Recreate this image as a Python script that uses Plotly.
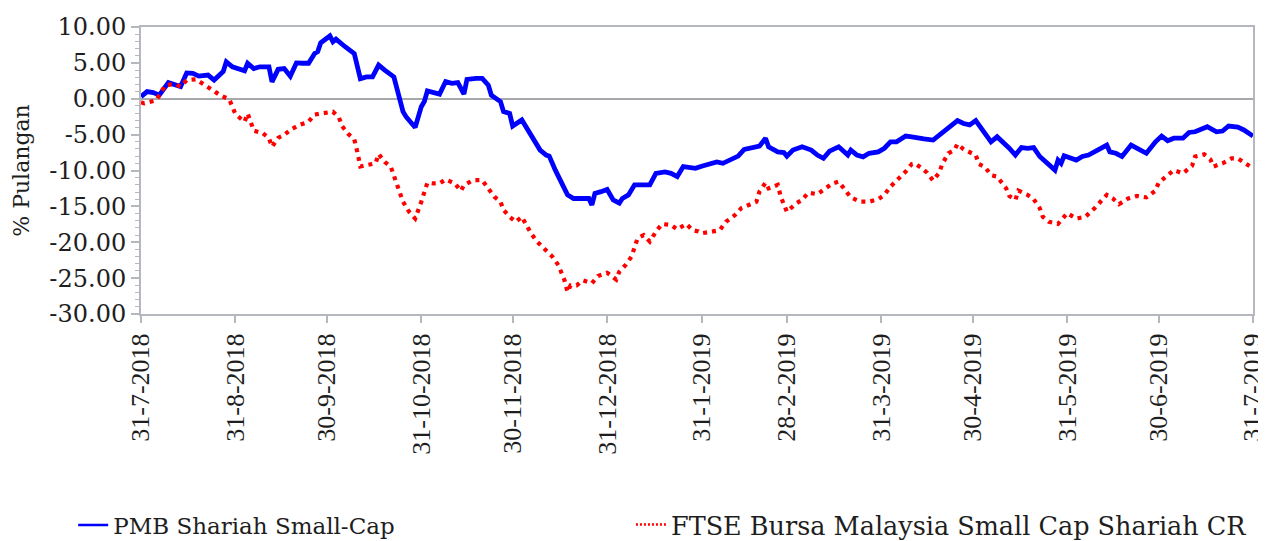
import pandas as pd
import plotly.graph_objects as go

start_date = "2018-07-31"

# PMB Shariah Small-Cap: day offset from 31-7-2018 and % return
pmb_days = [0, 2, 4, 6, 9, 11, 13, 15, 17, 19, 22, 24, 27, 28, 30, 34, 35, 37, 39, 42,
            43, 45, 47, 49, 51, 53, 55, 57, 58, 59, 62, 63, 64, 67, 70, 72, 74, 76, 78, 80,
            83, 86, 87, 90, 92, 93, 94, 98, 100, 102, 104, 106, 107, 110, 112, 114, 115, 118, 119, 121,
            122, 125, 127, 129, 131, 133, 134, 136, 138, 140, 142, 144, 147, 148, 149, 151, 153, 155, 157, 158,
            160, 162, 165, 167, 169, 172, 174, 176, 178, 181, 182, 184, 186, 189, 191, 194, 196, 198, 200, 203,
            205, 206, 209, 211, 212, 214, 217, 220, 222, 224, 226, 229, 232, 233, 235, 237, 239, 242, 244, 246,
            248, 251, 253, 255, 257, 260, 262, 264, 266, 268, 270, 272, 274, 275, 277, 279, 281, 283, 285, 287,
            289, 291, 293, 295, 297, 298, 300, 301, 302, 303, 305, 307, 309, 311, 314, 317, 318, 320, 322, 325,
            327, 330, 333, 335, 337, 339, 342, 344, 346, 350, 353, 355, 357, 360, 362, 365]
pmb_values = [0.3, 1.0, 0.85, 0.5, 2.25, 2.05, 1.7, 3.6, 3.55, 3.15, 3.3, 2.6, 3.8, 5.15, 4.45, 3.9, 4.95, 4.2, 4.45, 4.45,
              2.35, 4.1, 4.2, 3.15, 5.0, 4.95, 4.95, 6.3, 6.55, 7.8, 8.75, 7.95, 8.3, 7.25, 6.3, 2.8, 3.05, 3.05, 4.7, 4.0,
              3.05, -1.8, -2.5, -4.0, -1.1, -0.4, 1.1, 0.65, 2.4, 2.15, 2.25, 0.65, 2.7, 2.85, 2.85, 1.9, 0.5, -0.4, -1.8, -2.05,
              -3.8, -2.95, -4.35, -6.0, -7.15, -7.85, -8.0, -9.95, -11.8, -13.4, -13.9, -13.9, -13.9, -14.8, -13.2, -12.95, -12.65, -14.1, -14.55, -13.9,
              -13.4, -12.0, -11.9, -12.0, -10.4, -10.2, -10.4, -10.85, -9.45, -9.7, -9.7, -9.4, -9.1, -8.8, -9.0, -8.45, -8.0, -7.05, -6.8, -6.6,
              -5.5, -6.7, -7.4, -7.5, -8.0, -7.15, -6.7, -7.15, -7.85, -8.3, -7.3, -6.7, -7.85, -7.15, -7.85, -8.1, -7.6, -7.4, -6.9, -6.0,
              -6.0, -5.2, -5.3, -5.5, -5.6, -5.75, -5.05, -4.35, -3.8, -3.05, -3.45, -3.65, -3.05, -3.6, -4.8, -6.0, -5.3, -6.0, -6.9, -7.85,
              -6.8, -6.9, -6.8, -8.05, -8.8, -9.25, -9.95, -8.55, -9.0, -7.95, -8.3, -8.55, -8.05, -7.85, -7.15, -6.45, -7.4, -7.6, -8.05, -6.45,
              -6.9, -7.6, -6.0, -5.2, -5.85, -5.5, -5.5, -4.7, -4.6, -3.9, -4.6, -4.5, -3.8, -3.95, -4.35, -5.2]

# FTSE Bursa Malaysia Small Cap Shariah CR
ftse_days = [0, 1, 5, 8, 11, 13, 15, 18, 21, 23, 26, 29, 30, 31, 34, 35, 36, 37, 40, 42,
             43, 45, 47, 49, 52, 55, 57, 60, 63, 65, 66, 68, 70, 71, 72, 74, 77, 78, 80, 82,
             84, 86, 88, 90, 92, 93, 94, 96, 98, 100, 103, 105, 106, 109, 112, 114, 116, 118, 119, 121,
             123, 125, 128, 130, 133, 135, 137, 139, 140, 141, 143, 145, 148, 150, 153, 156, 157, 159, 161, 163,
             165, 167, 169, 171, 174, 176, 179, 181, 183, 184, 187, 190, 192, 195, 197, 200, 202, 203, 205, 206,
             209, 210, 211, 212, 215, 217, 219, 222, 224, 227, 229, 231, 233, 236, 239, 242, 244, 246, 249, 251,
             253, 254, 256, 258, 260, 262, 263, 265, 267, 268, 270, 273, 274, 275, 277, 279, 281, 282, 284, 285,
             287, 288, 291, 293, 295, 296, 298, 301, 303, 304, 307, 310, 313, 315, 317, 319, 321, 324, 327, 330,
             333, 334, 337, 339, 342, 345, 346, 349, 351, 352, 355, 358, 360, 362, 365]
ftse_values = [-0.5, -0.65, -0.2, 1.9, 2.05, 1.7, 2.6, 2.7, 1.9, 1.3, 0.5, -0.1, -1.35, -2.15, -3.2, -2.05, -3.2, -4.45, -4.8, -5.5,
               -6.7, -5.45, -5.05, -4.35, -3.65, -3.2, -2.2, -1.95, -1.8, -2.65, -3.8, -4.9, -5.65, -7.4, -9.45, -9.25, -9.0, -7.7, -8.8, -9.5,
               -11.8, -14.35, -15.75, -16.7, -14.35, -12.95, -11.7, -11.8, -11.8, -11.25, -11.8, -12.85, -12.05, -11.35, -11.35, -12.5, -13.65, -14.35, -15.5, -16.45,
               -17.15, -16.45, -18.75, -19.9, -21.1, -22.0, -23.2, -25.3, -26.9, -26.0, -26.0, -25.3, -25.7, -24.7, -24.25, -25.2, -24.1, -23.2, -22.0, -19.45,
               -19.0, -19.9, -18.55, -17.45, -17.6, -18.2, -17.45, -18.3, -18.5, -18.75, -18.55, -18.3, -17.15, -16.2, -15.25, -14.8, -14.35, -12.95, -11.7, -12.5,
               -12.0, -13.65, -14.8, -15.75, -14.6, -14.1, -13.1, -13.3, -12.7, -11.8, -11.55, -12.7, -13.75, -14.35, -14.35, -14.0, -13.4, -12.25, -11.1, -10.15,
               -9.1, -9.0, -9.6, -10.3, -11.4, -10.3, -9.1, -7.6, -7.15, -6.3, -7.05, -7.6, -7.85, -9.1, -9.5, -10.65, -10.85, -11.4, -12.5, -13.55,
               -14.1, -12.8, -13.4, -14.0, -15.25, -16.45, -17.15, -17.45, -16.45, -15.95, -16.7, -16.45, -15.25, -14.35, -13.4, -13.9, -14.7, -13.9, -13.55, -13.75,
               -12.8, -11.7, -10.75, -9.95, -10.4, -9.35, -8.05, -7.75, -8.45, -9.45, -9.0, -8.3, -8.3, -8.9, -9.7]

series_names = ["PMB Shariah Small-Cap", "FTSE Bursa Malaysia Small Cap Shariah CR"]

x_tick_dates = ["2018-07-31", "2018-08-31", "2018-09-30", "2018-10-31", "2018-11-30", "2018-12-31",
                "2019-01-31", "2019-02-28", "2019-03-31", "2019-04-30", "2019-05-31", "2019-06-30", "2019-07-31"]
x_tick_labels = ["31-7-2018", "31-8-2018", "30-9-2018", "31-10-2018", "30-11-2018", "31-12-2018",
                 "31-1-2019", "28-2-2019", "31-3-2019", "30-4-2019", "31-5-2019", "30-6-2019", "31-7-2019"]
y_tick_values = [10, 5, 0, -5, -10, -15, -20, -25, -30]
y_tick_labels = ["10.00", "5.00", "0.00", "-5.00", "-10.00", "-15.00", "-20.00", "-25.00", "-30.00"]

base = pd.Timestamp(start_date)
pmb_dates = [base + pd.Timedelta(days=d) for d in pmb_days]
ftse_dates = [base + pd.Timedelta(days=d) for d in ftse_days]

SERIF = "DejaVu Serif"
TIMES = "Liberation Serif"
TEXT = "#1e1e1e"
AXIS_GREY = "#b4b8be"
BLUE = "#0000ff"
RED = "#ff0000"

fig = go.Figure()
fig.add_trace(go.Scatter(x=pmb_dates, y=pmb_values, mode="lines", name=series_names[0],
                         line=dict(color=BLUE, width=4.8), showlegend=False))
fig.add_trace(go.Scatter(x=ftse_dates, y=ftse_values, mode="lines", name=series_names[1],
                         line=dict(color=RED, width=4.2, dash="4px,5px"), showlegend=False))
# legend entries (thin line samples as in the original)
fig.add_trace(go.Scatter(x=[None], y=[None], mode="lines", name=series_names[0],
                         line=dict(color=BLUE, width=2.5), hoverinfo="skip", legend="legend"))
fig.add_trace(go.Scatter(x=[None], y=[None], mode="lines", name=series_names[1],
                         line=dict(color=RED, width=2.5, dash="2px,2px"), hoverinfo="skip", legend="legend2"))

# the page body adds an 8px offset, so the figure is 8px smaller than the window
fig.update_layout(
    width=1258, height=533,
    margin=dict(l=133, r=13, t=19, b=227, autoexpand=False),
    paper_bgcolor="white", plot_bgcolor="white",
    font=dict(family=SERIF, color=TEXT),
    showlegend=True,
    legend=dict(orientation="h", x=-0.061, xanchor="left", y=-0.7351, yanchor="middle",
                font=dict(family=SERIF, size=23, color=TEXT), bgcolor="rgba(0,0,0,0)"),
    legend2=dict(orientation="h", x=0.4406, xanchor="left", y=-0.7351, yanchor="middle",
                 font=dict(family=SERIF, size=25.5, color=TEXT), bgcolor="rgba(0,0,0,0)"),
    xaxis=dict(type="date", range=["2018-07-31", "2019-07-31"], automargin=False,
               tickmode="array", tickvals=x_tick_dates, ticktext=x_tick_labels,
               tickangle=-90, tickfont=dict(family=TIMES, size=26, color=TEXT),
               ticklabeloverflow="allow",
               ticks="outside", ticklen=7, tickwidth=1.5, tickcolor=AXIS_GREY,
               showgrid=False, zeroline=False,
               showline=True, linecolor=AXIS_GREY, linewidth=2, mirror=True),
    yaxis=dict(range=[-30, 10], automargin=False,
               tickmode="array", tickvals=y_tick_values, ticktext=y_tick_labels,
               tickfont=dict(family=SERIF, size=24, color=TEXT),
               ticklabeloverflow="allow",
               ticks="outside", ticklen=8, tickwidth=1.5, tickcolor=AXIS_GREY,
               minor=dict(dtick=1, tick0=0, ticks="outside", ticklen=4, tickwidth=1, tickcolor=AXIS_GREY, showgrid=False),
               showgrid=False, zeroline=True, zerolinecolor="#a6a8ac", zerolinewidth=1.5,
               showline=True, linecolor=AXIS_GREY, linewidth=2, mirror=True,
               title=dict(text="% Pulangan", font=dict(family=SERIF, size=22, color=TEXT), standoff=14)),
)

fig.write_html("out.html")
